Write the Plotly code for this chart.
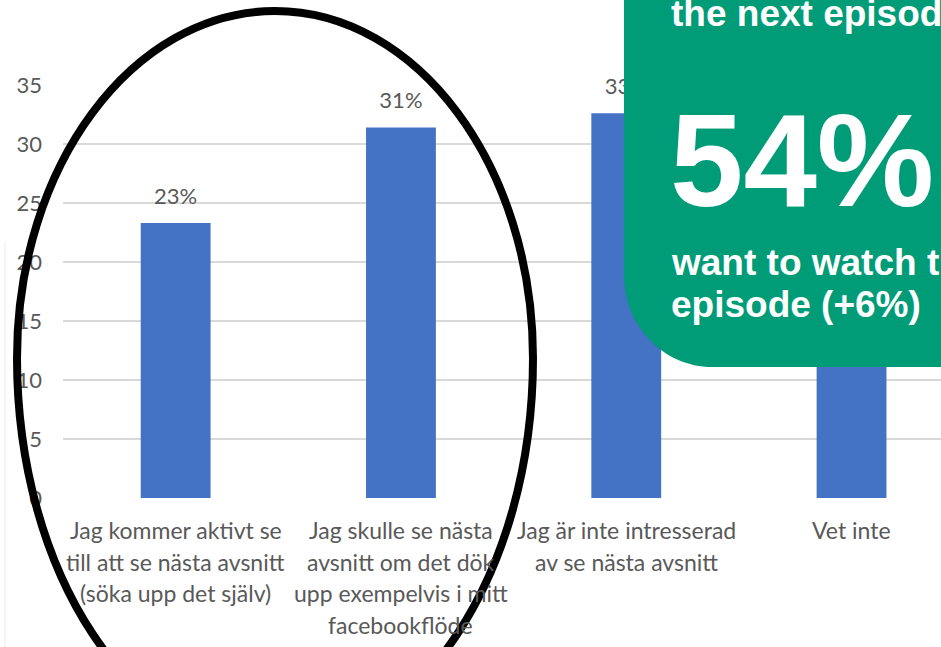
import plotly.graph_objects as go

# Survey answers (share of respondents, %)
categories = [
    "Jag kommer aktivt se<br>till att se nästa avsnitt<br>(söka upp det själv)",
    "Jag skulle se nästa<br>avsnitt om det dök<br>upp exempelvis i mitt<br>facebookflöde",
    "Jag är inte intresserad<br>av se nästa avsnitt",
    "Vet inte",
]
values = [23.3, 31.4, 32.6, 12.7]
y_ticks = [0, 5, 10, 15, 20, 25, 30, 35]

W, H = 941, 647
L, T, PW, PH = 63, 85, 878, 413  # plot area in pixels


def px(x, y):
    """Pixel position -> paper coordinates string for SVG paths."""
    return f"{(x - L) / PW:.5f},{(T + PH - y) / PH:.5f}"


def paper_y(y):
    return (T + PH - y) / PH


GREY = "#595959"
BLUE = "#4472C4"
GREEN = "#009C78"
TXT_FONT = "Lato, Carlito, sans-serif"
BOLD_FONT = "Arial, 'Liberation Sans', sans-serif"

# value labels; the last bar's label sits under the call-out box
bar_labels = [f"{v:.0f}%" for v in values[:3]] + [""]

fig = go.Figure()
fig.add_trace(go.Bar(
    x=categories, y=values, marker_color=BLUE, marker_line_width=0,
    width=0.31, hoverinfo="skip",
))
fig.add_trace(go.Scatter(
    x=categories, y=values, mode="markers+text",
    marker=dict(size=20, color="rgba(0,0,0,0)"),
    text=bar_labels, textposition="top center",
    textfont=dict(family=TXT_FONT, size=22, color=GREY),
    hoverinfo="skip", cliponaxis=False,
))

# category labels, one annotation per line
annotations = []
line_pitch = 31.7
for cat in categories:
    for j, line in enumerate(cat.split("<br>")):
        annotations.append(dict(
            x=cat, xref="x", y=paper_y(530 + j * line_pitch), yref="paper",
            text=line, showarrow=False, xanchor="center", yanchor="middle",
            font=dict(family=TXT_FONT, size=23, color=GREY),
        ))


# call-out box text
def callout(text, x, y, size):
    annotations.append(dict(
        x=(x - L) / PW, xref="paper", y=paper_y(y), yref="paper",
        text=f"<b>{text}</b>", showarrow=False, xanchor="left", yanchor="middle",
        font=dict(family=BOLD_FONT, size=size, color="white"),
    ))


callout("the next episode", 669, 14, 37)
callout("54%", 668, 160, 132)
callout("want to watch the", 669, 262, 37)
callout("episode (+6%)", 669, 304, 37)

# rounded call-out box (bottom-left corner rounded)
k = 0.5523
bx, by, rx, ry = 624, 367, 88, 92
box_path = (
    f"M {px(bx, -30)} L {px(bx, by - ry)} "
    f"C {px(bx, by - ry + k * ry)} {px(bx + rx - k * rx, by)} {px(bx + rx, by)} "
    f"L {px(990, by)} L {px(990, -30)} Z"
)

# hand-drawn style loop around the first two answers
cx, cy, a, bt, bb = 275, 358, 258, 347, 390
loop_path = (
    f"M {px(cx - a, cy)} "
    f"C {px(cx - a, cy - k * bt)} {px(cx - k * a, cy - bt)} {px(cx, cy - bt)} "
    f"C {px(cx + k * a, cy - bt)} {px(cx + a, cy - k * bt)} {px(cx + a, cy)} "
    f"C {px(cx + a, cy + k * bb)} {px(cx + k * a, cy + bb)} {px(cx, cy + bb)} "
    f"C {px(cx - k * a, cy + bb)} {px(cx - a, cy + k * bb)} {px(cx - a, cy)} Z"
)

shapes = [
    dict(type="line", xref="paper", yref="paper",
         x0=(5 - L) / PW, x1=(5 - L) / PW, y0=paper_y(242), y1=paper_y(700),
         line=dict(color="#ececec", width=1), layer="below"),
    dict(type="path", xref="paper", yref="paper", path=box_path,
         fillcolor=GREEN, line=dict(width=0), layer="above"),
    dict(type="path", xref="paper", yref="paper", path=loop_path,
         fillcolor="rgba(0,0,0,0)", line=dict(color="black", width=8), layer="above"),
]

fig.update_layout(
    width=W, height=H,
    margin=dict(l=L, r=W - L - PW, t=T, b=H - T - PH, pad=0),
    paper_bgcolor="white", plot_bgcolor="white",
    showlegend=False, bargap=0.69,
    annotations=annotations, shapes=shapes,
    xaxis=dict(range=[-0.5, -0.5 + PW / 225.3], showticklabels=False,
               showgrid=False, zeroline=False, showline=False, fixedrange=True),
    yaxis=dict(range=[0, 35], tickvals=y_ticks, showgrid=True,
               gridcolor="#d9d9d9", gridwidth=2, zeroline=False, showline=False,
               tickfont=dict(family=TXT_FONT, size=22, color=GREY),
               ticklabelstandoff=20, fixedrange=True),
)

fig.write_html("out.html", config={"displayModeBar": False, "staticPlot": True})
